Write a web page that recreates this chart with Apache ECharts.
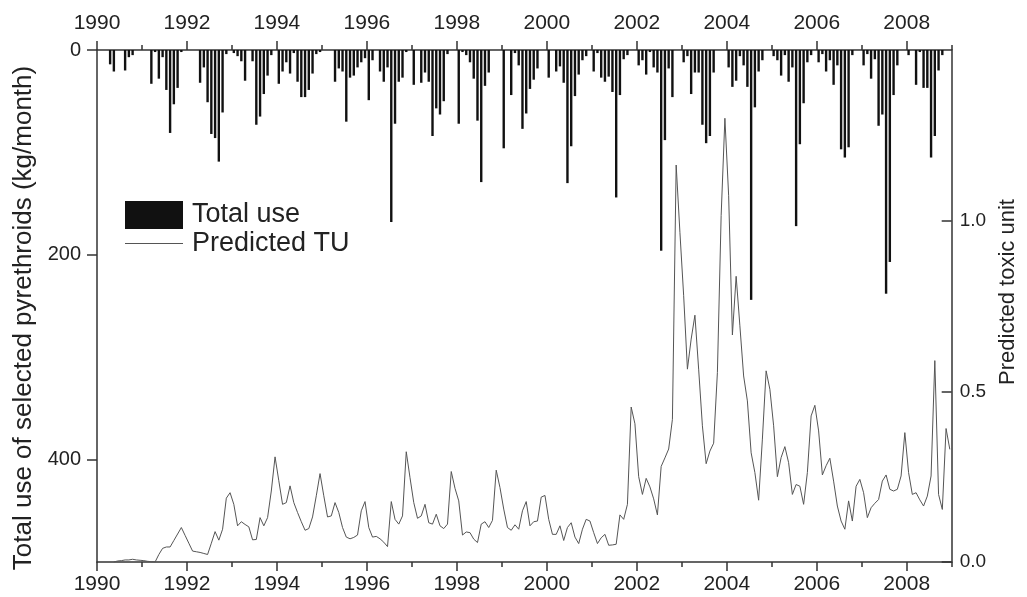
<!DOCTYPE html>
<html>
<head>
<meta charset="utf-8">
<title>Pyrethroid use and predicted toxic units</title>
<script src="https://cdn.jsdelivr.net/npm/echarts@6/dist/echarts.min.js"></script>
<style>
  html, body { margin: 0; padding: 0; background: #fff; }
  #chart { width: 1027px; height: 597px; }
</style>
</head>
<body>
<div id="chart"></div>
<script>
// monthly data, Jan 1990 .. Dec 2008 (one row per year)
const startYear = 1990;
const endYear = 2009;

// total use of selected pyrethroids (kg/month)
const totalUse = [
  0, 0, 0, 14, 21, 0, 0, 20, 7, 5, 0, 0,
  0, 0, 33, 2, 28, 7, 39, 81, 53, 37, 2, 0,
  0, 0, 0, 32, 17, 51, 82, 86, 109, 61, 4, 0,
  3, 6, 11, 30, 0, 11, 73, 65, 43, 25, 5, 0,
  33, 21, 12, 23, 3, 31, 46, 46, 39, 23, 4, 2,
  0, 0, 0, 31, 18, 21, 70, 27, 25, 17, 12, 8,
  49, 10, 0, 21, 31, 17, 168, 72, 31, 27, 2, 0,
  34, 0, 32, 22, 31, 84, 57, 63, 50, 4, 0, 0,
  72, 2, 5, 12, 28, 69, 129, 35, 22, 0, 0, 0,
  96, 0, 44, 3, 15, 77, 62, 38, 29, 18, 0, 0,
  27, 0, 21, 16, 32, 130, 94, 45, 24, 10, 6, 0,
  21, 3, 27, 31, 26, 41, 144, 44, 9, 5, 0, 0,
  15, 10, 24, 2, 17, 22, 196, 88, 18, 46, 0, 0,
  12, 6, 43, 22, 22, 73, 91, 84, 22, 0, 0, 0,
  17, 36, 30, 6, 15, 36, 244, 56, 21, 10, 0, 0,
  6, 10, 25, 5, 31, 17, 172, 92, 52, 12, 5, 0,
  12, 4, 21, 10, 34, 15, 97, 105, 95, 5, 0, 0,
  15, 4, 28, 9, 74, 63, 238, 207, 44, 15, 0, 0,
  5, 0, 34, 2, 37, 37, 105, 84, 20, 5, 0, 0
];

// predicted toxic unit
const predictedTU = [
  null, null, null, null, 0.0, 0.003, 0.004, 0.006, 0.006, 0.008, 0.006, 0.005,
  0.004, 0.002, 0.001, 0.0, 0.022, 0.040, 0.044, 0.044, 0.063, 0.082, 0.101, 0.078,
  0.055, 0.032, 0.030, 0.028, 0.025, 0.022, 0.055, 0.089, 0.064, 0.096, 0.187, 0.203,
  0.169, 0.106, 0.118, 0.110, 0.103, 0.065, 0.066, 0.130, 0.106, 0.130, 0.208, 0.308,
  0.238, 0.169, 0.174, 0.223, 0.174, 0.145, 0.118, 0.093, 0.098, 0.132, 0.194, 0.259,
  0.194, 0.132, 0.135, 0.174, 0.145, 0.101, 0.073, 0.068, 0.072, 0.079, 0.150, 0.177,
  0.101, 0.073, 0.075, 0.068, 0.058, 0.045, 0.177, 0.125, 0.111, 0.135, 0.323, 0.247,
  0.174, 0.128, 0.135, 0.169, 0.115, 0.111, 0.140, 0.106, 0.098, 0.111, 0.265, 0.216,
  0.179, 0.079, 0.088, 0.086, 0.067, 0.057, 0.111, 0.118, 0.101, 0.122, 0.269, 0.218,
  0.155, 0.101, 0.093, 0.109, 0.096, 0.150, 0.177, 0.106, 0.118, 0.120, 0.190, 0.195,
  0.125, 0.081, 0.081, 0.106, 0.063, 0.101, 0.115, 0.073, 0.054, 0.096, 0.125, 0.120,
  0.086, 0.054, 0.071, 0.081, 0.049, 0.050, 0.052, 0.138, 0.125, 0.169, 0.454, 0.405,
  0.250, 0.198, 0.245, 0.220, 0.185, 0.138, 0.280, 0.305, 0.331, 0.418, 1.163, 0.966,
  0.780, 0.565, 0.653, 0.723, 0.565, 0.399, 0.288, 0.325, 0.348, 0.555, 1.015, 1.300,
  1.073, 0.665, 0.837, 0.692, 0.545, 0.472, 0.320, 0.262, 0.181, 0.360, 0.560, 0.506,
  0.399, 0.250, 0.306, 0.338, 0.291, 0.198, 0.227, 0.222, 0.169, 0.262, 0.428, 0.459,
  0.384, 0.255, 0.282, 0.304, 0.237, 0.164, 0.120, 0.096, 0.179, 0.120, 0.222, 0.242,
  0.203, 0.130, 0.159, 0.172, 0.183, 0.237, 0.255, 0.213, 0.208, 0.213, 0.252, 0.379,
  0.262, 0.198, 0.203, 0.182, 0.164, 0.193, 0.252, 0.590, 0.198, 0.154, 0.391, 0.330
];

const useTicks = [0, 200, 400];
const tuTicks = [0, 0.5, 1.0];
const majorYears = [1990, 1992, 1994, 1996, 1998, 2000, 2002, 2004, 2006, 2008];
const minorYears = [1991, 1993, 1995, 1997, 1999, 2001, 2003, 2005, 2007, 2009];

// mid-month position of each sample
const monthX = totalUse.map((v, i) => startYear + (i + 0.5) / 12);

const font = 'Liberation Sans, Arial, sans-serif';
const ink = '#222';
const axisColor = '#333';

const chart = echarts.init(document.getElementById('chart'));

const yearAxis = (position, major) => ({
  type: 'value',
  position: position,
  min: startYear,
  max: endYear,
  splitLine: { show: false },
  axisLine: { show: major, onZero: false, lineStyle: { color: axisColor, width: 1.5 } },
  axisTick: {
    show: true,
    length: major ? 9 : 5,
    customValues: major ? majorYears : minorYears,
    lineStyle: { color: axisColor, width: 1.5 }
  },
  axisLabel: {
    show: major,
    customValues: majorYears,
    margin: position === 'top' ? 16 : 12,
    color: ink,
    fontSize: 21,
    fontFamily: font,
    formatter: (v) => String(v)
  }
});

const option = {
  animation: false,
  backgroundColor: '#fff',
  grid: { left: 97, right: 65, top: 50, bottom: 35 },
  legend: {
    orient: 'vertical',
    left: 125,
    top: 201,
    padding: 0,
    itemWidth: 58,
    itemHeight: 28,
    itemGap: 1,
    selectedMode: false,
    textStyle: { fontSize: 27, fontFamily: font, color: ink, padding: [0, 0, 0, 4] },
    data: [
      { name: 'Total use', icon: 'rect' },
      { name: 'Predicted TU', icon: 'path://M0,0 H58 V1 H0 Z' }
    ]
  },
  xAxis: [
    yearAxis('bottom', true),
    yearAxis('bottom', false),
    yearAxis('top', true),
    yearAxis('top', false)
  ],
  yAxis: [
    {
      type: 'value',
      position: 'left',
      inverse: true,
      min: 0,
      max: 500,
      splitLine: { show: false },
      axisLine: { show: true, lineStyle: { color: axisColor, width: 1.5 } },
      axisTick: { show: true, length: 10, customValues: useTicks, lineStyle: { color: axisColor, width: 1.5 } },
      axisLabel: { customValues: useTicks, margin: 16, color: ink, fontSize: 20, fontFamily: font },
      name: 'Total use of selected pyrethroids (kg/month)',
      nameLocation: 'middle',
      nameRotate: 90,
      nameGap: 56,
      nameTextStyle: { fontSize: 26, fontFamily: font, color: ink, padding: [0, 24, 0, 0] }
    },
    {
      type: 'value',
      position: 'right',
      min: 0,
      max: 1.5,
      splitLine: { show: false },
      axisLine: { show: true, lineStyle: { color: axisColor, width: 1.5 } },
      axisTick: { show: true, inside: true, length: 10, customValues: tuTicks, lineStyle: { color: axisColor, width: 1.5 } },
      axisLabel: {
        customValues: tuTicks,
        margin: 8,
        color: ink,
        fontSize: 19,
        fontFamily: font,
        formatter: (v) => v.toFixed(1)
      },
      name: 'Predicted toxic unit',
      nameLocation: 'middle',
      nameRotate: 90,
      nameGap: 42,
      nameTextStyle: { fontSize: 22, fontFamily: font, color: ink, padding: [0, 0, 0, 28] }
    }
  ],
  series: [
    {
      name: 'Total use',
      type: 'bar',
      xAxisIndex: 0,
      yAxisIndex: 0,
      barWidth: 2.4,
      itemStyle: { color: '#111' },
      data: monthX.map((x, i) => [x, totalUse[i]])
    },
    {
      name: 'Predicted TU',
      type: 'line',
      xAxisIndex: 0,
      yAxisIndex: 1,
      symbol: 'none',
      lineStyle: { color: '#555', width: 1 },
      itemStyle: { color: '#555' },
      data: monthX.map((x, i) => [x, predictedTU[i]])
    }
  ]
};

chart.setOption(option);
</script>
</body>
</html>
